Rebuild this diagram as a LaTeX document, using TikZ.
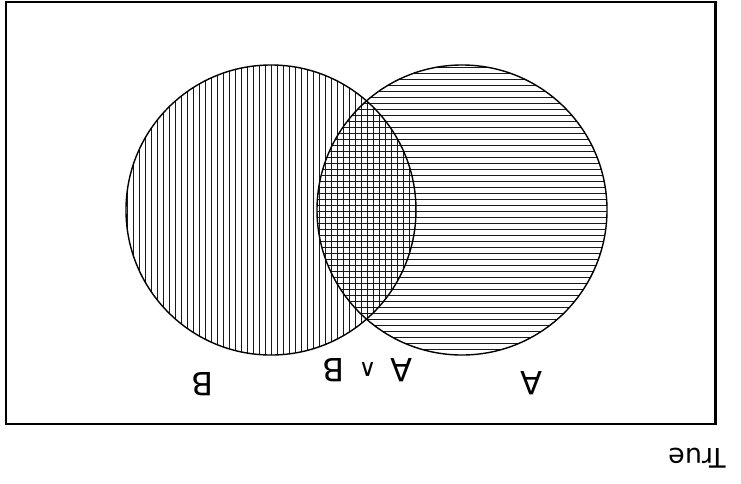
\documentclass[tikz,border=0pt]{standalone}
\usepackage{fontspec}
\setmainfont{DejaVu Sans}
\begin{document}
\begin{tikzpicture}[x=1pt,y=-1pt,
  hatch/.style={draw=black!90,line width=1pt},
  outline/.style={draw=black,line width=1.4pt},
  frame/.style={draw=black,line width=2.2pt},
  lbl/.style={rotate=180,inner sep=0pt,font=\fontsize{32}{32}\selectfont}]
\useasboundingbox (0,0) rectangle (741,483);
\coordinate (cA) at (462,210);
\coordinate (cB) at (271,210);
% vertical hatch in B
\begin{scope}
  \clip (cB) circle (145pt);
  \foreach \x in {127,133,...,417} \draw[hatch] (\x,60) -- (\x,360);
\end{scope}
% horizontal hatch in A
\begin{scope}
  \clip (cA) circle (145pt);
  \foreach \y in {67,73,...,356} \draw[hatch] (312,\y) -- (612,\y);
\end{scope}
\draw[outline] (cB) circle (145pt);
\draw[outline] (cA) circle (145pt);
\draw[frame] (6.3,2) rectangle (715.5,424);
\node[lbl] (lB) at (203,384) {B};
\node[lbl] (lA) at (532,383) {A};
\node[lbl] (lAB) at (367.5,370) {A\hspace{14pt}{\fontsize{24}{24}\selectfont\raisebox{4pt}{∧}}\hspace{14pt}B};
\node[rotate=180,inner sep=0pt,font=\fontsize{27}{27}\selectfont] (lT) at (697,458) {True};
\end{tikzpicture}
\end{document}
